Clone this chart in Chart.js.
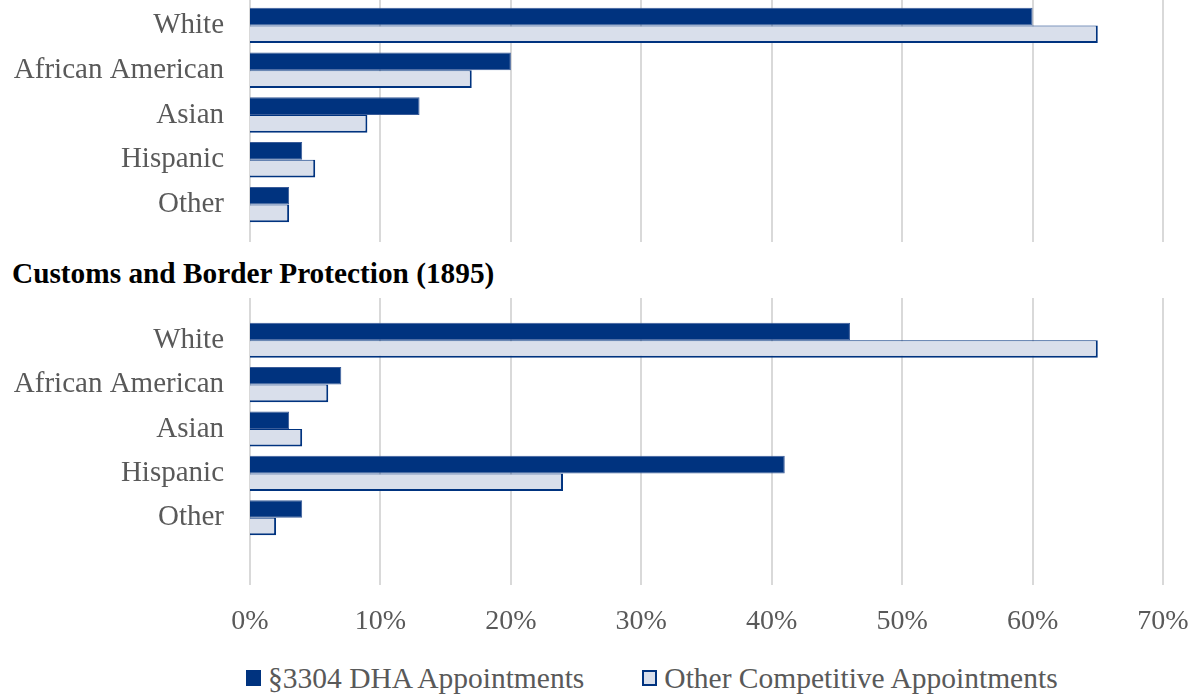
<!DOCTYPE html>
<html>
<head>
<meta charset="utf-8">
<script src="https://cdn.jsdelivr.net/npm/chart.js@4/dist/chart.umd.min.js"></script>
<style>
  body { margin: 0; background: #fff; }
  #wrap { position: relative; width: 1200px; height: 694px; overflow: hidden; font-family: "Liberation Serif", "Times New Roman", serif; }
  #topChart { position: absolute; left: 0; top: 0; }
  #cbpChart { position: absolute; left: 0; top: 298px; }
  #cbpTitle { position: absolute; left: 12px; top: 259px; font-size: 29.3px; line-height: 29px; font-weight: bold; color: #000; white-space: nowrap; }
  #legend { position: absolute; left: 246px; top: 661px; display: flex; gap: 58px; font-size: 29.5px; line-height: 34px; color: #595959; white-space: nowrap; }
  .item { display: flex; align-items: center; }
  .box { width: 15px; height: 16px; box-sizing: border-box; margin-right: 7px; }
</style>
</head>
<body>
<div id="wrap">
  <canvas id="topChart" width="1200" height="242"></canvas>
  <div id="cbpTitle">Customs and Border Protection (1895)</div>
  <canvas id="cbpChart" width="1200" height="352"></canvas>
  <div id="legend"></div>
</div>
<script>
// ── Data ─────────────────────────────
const categories = ['White', 'African American', 'Asian', 'Hispanic', 'Other'];
const seriesNames = ['§3304 DHA Appointments', 'Other Competitive Appointments'];
const topDha = [60, 20, 13, 4, 3];
const topOther = [65, 17, 9, 5, 3];
const cbpDha = [46, 7, 3, 41, 4];
const cbpOther = [65, 6, 4, 24, 2];
const xMax = 70;
const xStep = 10;

const DARK = '#00337F';
const LIGHT = '#D9DFEB';
const GRID = '#D9D9D9';
const TEXT = '#595959';
const FONT = '"Liberation Serif", "Times New Roman", serif';

// vertical grid lines that run past the bar area (like the original)
const fullGrid = {
  id: 'fullGrid',
  beforeDatasetsDraw(chart, args, opts) {
    const x = chart.scales.x;
    const c = chart.ctx;
    c.save();
    c.strokeStyle = GRID;
    c.lineWidth = 2;
    x.ticks.forEach(t => {
      const px = Math.round(x.getPixelForValue(t.value));
      c.beginPath();
      c.moveTo(px, opts.top);
      c.lineTo(px, opts.bottom);
      c.stroke();
    });
    c.restore();
  }
};

function datasets(dha, other) {
  return [{
    label: seriesNames[0],
    data: dha,
    backgroundColor: DARK,
    borderColor: '#3A5C99',
    borderWidth: 1,
    categoryPercentage: 0.79,
    barPercentage: 1.0,
  }, {
    label: seriesNames[1],
    data: other,
    backgroundColor: LIGHT,
    borderColor: DARK,
    borderWidth: { top: 1, left: 1, right: 2, bottom: 2 },
    categoryPercentage: 0.79,
    barPercentage: 1.0,
  }];
}

function makeChart(el, dha, other, showTicks, padding, grid) {
  return new Chart(el, {
    type: 'bar',
    data: { labels: categories, datasets: datasets(dha, other) },
    plugins: [fullGrid],
    options: {
      indexAxis: 'y',
      responsive: false,
      animation: false,
      layout: { padding: padding },
      plugins: {
        legend: { display: false },
        tooltip: { enabled: false },
        fullGrid: grid,
      },
      scales: {
        x: {
          min: 0,
          max: xMax,
          grid: { display: false, drawTicks: false },
          border: { display: false },
          afterFit: s => {
            s.paddingLeft = 0;
            s.paddingRight = 0;
            if (showTicks) s.height = 97;   // padding only above the labels
          },
          ticks: {
            display: showTicks,
            stepSize: xStep,
            padding: 65,
            color: TEXT,
            font: { family: FONT, size: 28 },
            callback: v => v + '%',
          },
        },
        y: {
          grid: { display: false, drawTicks: false },
          border: { display: false },
          afterFit: s => { s.width = 250; s.paddingTop = 0; s.paddingBottom = 0; },
          ticks: {
            padding: 26,
            autoSkip: false,
            color: TEXT,
            font: { family: FONT, size: 29 },
          },
        },
      },
    },
  });
}

makeChart(document.getElementById('topChart'), topDha, topOther, false,
  { top: 3, bottom: 15, left: 0, right: 37 }, { top: 0, bottom: 242 });

makeChart(document.getElementById('cbpChart'), cbpDha, cbpOther, true,
  { top: 20, bottom: 13, left: 0, right: 37 }, { top: 0, bottom: 287 });

// ── Legend ───────────────────────────
const legend = document.getElementById('legend');
[[DARK, DARK], [LIGHT, DARK]].forEach((col, i) => {
  const item = document.createElement('div');
  item.className = 'item';
  const box = document.createElement('span');
  box.className = 'box';
  box.style.background = col[0];
  box.style.border = '2px solid ' + col[1];
  const txt = document.createElement('span');
  txt.textContent = seriesNames[i];
  item.appendChild(box);
  item.appendChild(txt);
  legend.appendChild(item);
});
</script>
</body>
</html>
